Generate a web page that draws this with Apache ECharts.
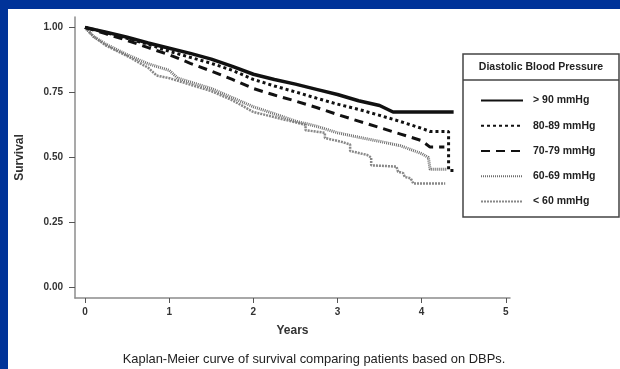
<!DOCTYPE html>
<html><head><meta charset="utf-8">
<script src="https://cdn.jsdelivr.net/npm/echarts@6/dist/echarts.min.js"></script>
<style>
html,body{margin:0;padding:0;background:#003399;width:620px;height:369px;overflow:hidden}
#c{position:absolute;left:8px;top:9px;width:612px;height:360px;background:#fff}
</style></head><body><div id="c"></div>
<script>
// Tick labels
const xTicks = [0, 1, 2, 3, 4, 5];
const yTicks = [0, 0.25, 0.5, 0.75, 1.0];
const seriesNames = ['> 90 mmHg', '80-89 mmHg', '70-79 mmHg', '60-69 mmHg', '< 60 mmHg'];

// > 90 mmHg
const t90 = [0, 0.25, 0.5, 0.75, 1.0, 1.25, 1.5, 1.75, 2.0, 2.25, 2.5, 2.75, 3.0, 3.25, 3.5, 3.66, 4.38];
const s90 = [1.0, 0.982, 0.962, 0.94, 0.92, 0.9, 0.878, 0.85, 0.82, 0.8, 0.782, 0.762, 0.742, 0.718, 0.7, 0.675, 0.675];
// 80-89 mmHg
const t85 = [0, 0.25, 0.5, 0.75, 1.0, 1.25, 1.5, 1.75, 2.0, 2.25, 2.5, 2.75, 3.0, 3.25, 3.5, 3.75, 4.0, 4.1, 4.32, 4.32, 4.38];
const s85 = [1.0, 0.98, 0.958, 0.935, 0.908, 0.885, 0.862, 0.835, 0.8, 0.775, 0.752, 0.728, 0.705, 0.685, 0.662, 0.638, 0.612, 0.6, 0.6, 0.45, 0.45];
// 70-79 mmHg
const t75 = [0, 0.25, 0.5, 0.75, 1.0, 1.25, 1.5, 1.75, 2.0, 2.25, 2.5, 2.75, 3.0, 3.25, 3.5, 3.75, 4.0, 4.1, 4.27];
const s75 = [1.0, 0.975, 0.95, 0.922, 0.895, 0.862, 0.832, 0.8, 0.765, 0.74, 0.717, 0.692, 0.665, 0.64, 0.615, 0.59, 0.565, 0.54, 0.54];
// 60-69 mmHg
const t65 = [0, 0.1, 0.25, 0.5, 0.75, 1.0, 1.1, 1.25, 1.5, 1.75, 2.0, 2.25, 2.5, 2.75, 3.0, 3.25, 3.5, 3.75, 4.0, 4.08, 4.1, 4.3];
const s65 = [1.0, 0.965, 0.935, 0.895, 0.86, 0.835, 0.805, 0.79, 0.765, 0.73, 0.695, 0.668, 0.64, 0.62, 0.595, 0.578, 0.562, 0.545, 0.515, 0.5, 0.455, 0.455];
// < 60 mmHg
const t60 = [0, 0.1, 0.25, 0.5, 0.75, 0.85, 1.0, 1.25, 1.5, 1.75, 2.0, 2.25, 2.5, 2.62, 2.62, 2.85, 2.85, 3.05, 3.15, 3.15, 3.35, 3.4, 3.4, 3.7, 3.72, 3.78, 3.8, 3.87, 3.9, 4.28];
const s60 = [1.0, 0.965, 0.93, 0.89, 0.845, 0.815, 0.805, 0.78, 0.755, 0.72, 0.675, 0.655, 0.635, 0.625, 0.605, 0.595, 0.575, 0.56, 0.55, 0.525, 0.51, 0.5, 0.47, 0.465, 0.445, 0.44, 0.425, 0.42, 0.4, 0.4];

const pair = (t, s) => t.map((v, i) => [v, s[i]]);
const FONT = 'Liberation Sans';

const chart = echarts.init(document.getElementById('c'), null, {renderer: 'canvas'});
const mk = (name, t, s, color, width, type) => ({
  name, type: 'line', data: pair(t, s), symbol: 'none', showSymbol: false,
  lineStyle: {color, width, type, cap: 'butt'}, itemStyle: {color},
  emphasis: {disabled: true}, animation: false
});

chart.setOption({
  animation: false,
  grid: {left: 67, top: 8, width: 435, height: 281, containLabel: false, outerBoundsMode: 'none'},
  xAxis: {
    type: 'value', min: -0.12, max: 5.05,
    name: 'Years', nameLocation: 'middle', nameGap: 27,
    nameTextStyle: {fontFamily: FONT, fontWeight: 'bold', fontSize: 12, color: '#333'},
    axisLine: {show: true, onZero: false, lineStyle: {color: '#8c8c8c', width: 1.5}},
    axisTick: {show: true, customValues: xTicks, length: 5, lineStyle: {color: '#555', width: 1}},
    axisLabel: {customValues: xTicks, margin: 9, fontFamily: FONT, fontWeight: 'bold', fontSize: 10, color: '#333'},
    splitLine: {show: false}
  },
  yAxis: {
    type: 'value', min: -0.04, max: 1.04,
    name: 'Survival', nameLocation: 'middle', nameGap: 49, nameRotate: 90,
    nameTextStyle: {fontFamily: FONT, fontWeight: 'bold', fontSize: 12, color: '#333'},
    axisLine: {show: true, onZero: false, lineStyle: {color: '#8c8c8c', width: 1.5}},
    axisTick: {show: true, customValues: yTicks, length: 6, lineStyle: {color: '#555', width: 1}},
    axisLabel: {customValues: yTicks, margin: 12, formatter: v => v.toFixed(2), fontFamily: FONT, fontWeight: 'bold', fontSize: 10, color: '#333'},
    splitLine: {show: false}
  },
  legend: {
    orient: 'vertical', left: 467, top: 81, itemWidth: 42, itemHeight: 14, itemGap: 14,
    data: seriesNames, selectedMode: false,
    itemStyle: {opacity: 0},
    textStyle: {fontFamily: FONT, fontWeight: 'bold', fontSize: 10.5, color: '#222', padding: [0, 0, 0, 5]}
  },
  graphic: [
    {type: 'rect', shape: {x: 455, y: 45, width: 156, height: 163}, style: {fill: 'none', stroke: '#444', lineWidth: 1.5}},
    {type: 'line', shape: {x1: 455, y1: 71, x2: 611, y2: 71}, style: {stroke: '#444', lineWidth: 1.5}},
    {type: 'text', x: 533, y: 58, style: {text: 'Diastolic Blood Pressure', align: 'center', verticalAlign: 'middle', font: 'bold 10.5px "Liberation Sans"', fill: '#222'}},
    {type: 'text', x: 306, y: 350, style: {text: 'Kaplan-Meier curve of survival comparing patients based on DBPs.', align: 'center', verticalAlign: 'middle', font: '12.9px "Liberation Sans"', fill: '#222'}}
  ],
  series: [
    mk(seriesNames[4], t60, s60, '#888', 2.5, [2, 1]),
    mk(seriesNames[3], t65, s65, '#6e6e6e', 3, [1, 1]),
    mk(seriesNames[2], t75, s75, '#111', 3, [9, 6]),
    mk(seriesNames[1], t85, s85, '#111', 3, [3, 3]),
    mk(seriesNames[0], t90, s90, '#111', 3.5, 'solid')
  ]
});
</script></body></html>
